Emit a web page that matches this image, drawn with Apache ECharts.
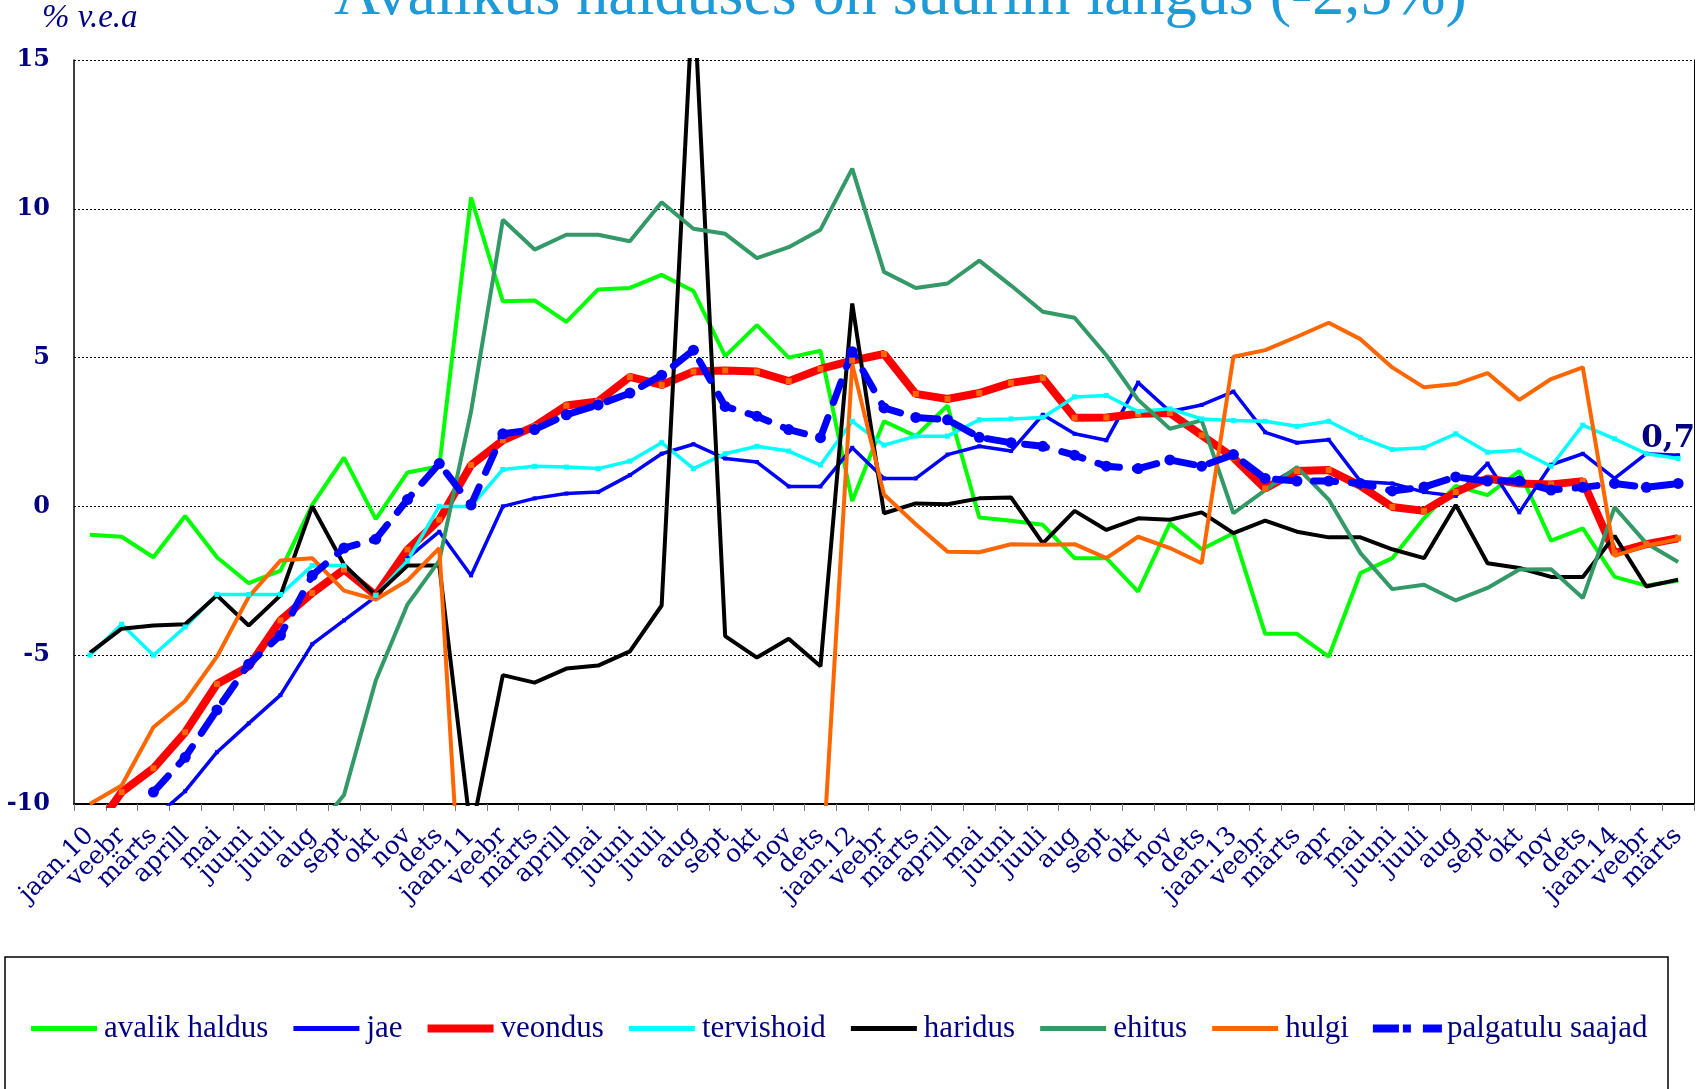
<!DOCTYPE html>
<html><head><meta charset="utf-8">
<script src="https://cdn.jsdelivr.net/npm/echarts@6/dist/echarts.min.js"></script>
<style>html,body{margin:0;padding:0;background:#fff}#c{width:1703px;height:1089px}</style>
</head><body><div id="c"></div>
<script>
const categories = ['jaan.10','veebr','märts','aprill','mai','juuni','juuli','aug','sept','okt','nov','dets',
  'jaan.11','veebr','märts','aprill','mai','juuni','juuli','aug','sept','okt','nov','dets',
  'jaan.12','veebr','märts','aprill','mai','juuni','juuli','aug','sept','okt','nov','dets',
  'jaan.13','veebr','märts','apr','mai','juuni','juuli','aug','sept','okt','nov','dets',
  'jaan.14','veebr','märts'];
const yTicks = [-10, -5, 0, 5, 10, 15];
const avalikHaldus = [-0.95,-1.02,-1.71,-0.32,-1.71,-2.58,-2.16,0.05,1.64,-0.43,1.14,1.35,
  10.38,6.89,6.92,6.20,7.29,7.34,7.78,7.24,5.05,6.09,5.00,5.23,
  0.18,2.86,2.36,3.39,-0.37,-0.48,-0.62,-1.74,-1.74,-2.86,-0.57,-1.44,
  -0.90,-4.28,-4.28,-5.05,-2.24,-1.74,-0.40,0.69,0.38,1.19,-1.15,-0.74,
  -2.37,-2.66,-2.50];
const jae = [null,null,-10.5,-9.57,-8.26,-7.29,-6.34,-4.63,-3.83,-3.03,-1.74,-0.85,
  -2.32,0.0,0.27,0.43,0.48,1.05,1.77,2.09,1.61,1.49,0.67,0.67,
  1.97,0.94,0.94,1.74,2.02,1.86,3.08,2.44,2.22,4.16,3.19,3.41,
  3.86,2.49,2.14,2.24,0.84,0.77,0.48,0.35,1.44,-0.20,1.40,1.77,
  0.94,1.77,1.72];
const veondus = [-11.1,-9.6,-8.80,-7.59,-5.97,-5.38,-3.83,-2.91,-2.12,-2.99,-1.45,-0.45,
  1.39,2.22,2.69,3.39,3.53,4.35,4.08,4.53,4.57,4.53,4.21,4.62,
  4.90,5.12,3.78,3.61,3.81,4.15,4.31,2.98,2.99,3.11,3.14,2.39,
  1.64,0.60,1.19,1.22,0.69,-0.02,-0.15,0.48,0.94,0.77,0.74,0.85,
  -1.57,-1.27,-1.07];
const tervishoid = [-5.0,-3.96,-5.0,-4.05,-2.96,-2.96,-2.96,-1.99,-1.99,-2.99,-1.82,0.0,
  0.0,1.24,1.35,1.32,1.27,1.52,2.14,1.27,1.77,2.02,1.86,1.39,
  2.86,2.06,2.36,2.36,2.91,2.94,2.99,3.68,3.73,3.19,3.28,2.94,
  2.89,2.86,2.69,2.86,2.32,1.91,1.97,2.44,1.82,1.89,1.35,2.73,
  2.27,1.77,1.61];
const haridus = [-4.92,-4.11,-4.0,-3.96,-2.99,-4.0,-2.99,0.0,-1.96,-2.99,-1.99,-1.99,
  -11.0,-5.67,-5.92,-5.45,-5.35,-4.87,-3.33,17.5,-4.36,-5.08,-4.45,-5.37,
  6.82,-0.23,0.10,0.07,0.27,0.30,-1.24,-0.15,-0.79,-0.40,-0.45,-0.20,
  -0.90,-0.48,-0.85,-1.04,-1.04,-1.44,-1.74,0.05,-1.91,-2.07,-2.37,-2.37,
  -0.99,-2.69,-2.46];
const ehitus = [null,null,null,null,null,null,null,-11.0,-9.7,-5.85,-3.29,-1.82,
  3.19,9.63,8.63,9.13,9.13,8.91,10.22,9.33,9.16,8.34,8.71,9.30,
  11.35,7.88,7.34,7.49,8.26,7.42,6.54,6.34,5.08,3.58,2.61,2.89,
  -0.23,0.55,1.32,0.23,-1.57,-2.78,-2.63,-3.16,-2.74,-2.12,-2.11,-3.08,
  -0.03,-1.24,-1.87];
const hulgi = [-10.0,-9.38,-7.42,-6.54,-5.05,-3.04,-1.82,-1.74,-2.83,-3.13,-2.49,-1.40,
  -19.4,null,null,null,null,null,null,null,null,null,null,-13.2,
  4.78,0.40,-0.60,-1.52,-1.54,-1.27,-1.29,-1.27,-1.74,-1.02,-1.40,-1.91,
  5.03,5.25,5.70,6.17,5.62,4.67,4.00,4.11,4.48,3.58,4.28,4.67,
  -1.66,-1.32,-1.10];
const palgatuluSaajad = [null,null,-9.6,-8.43,-6.84,-5.30,-4.33,-2.32,-1.40,-1.10,0.23,1.44,
  0.05,2.44,2.58,3.08,3.41,3.81,4.41,5.25,3.36,3.03,2.58,2.31,
  5.20,3.31,2.99,2.91,2.32,2.14,2.02,1.72,1.35,1.27,1.56,1.35,
  1.74,0.94,0.85,0.85,0.77,0.52,0.65,0.99,0.85,0.85,0.55,0.64,
  0.77,0.64,0.77];
const lastLabel = '0,7';
const seriesNames = ['avalik haldus','jae','veondus','tervishoid','haridus','ehitus','hulgi','palgatulu saajad'];

const NAVY = '#000080';
const SERIF = "'DejaVu Serif', 'Liberation Serif', serif";
const TIMES = "'Liberation Serif', serif";
const chart = echarts.init(document.getElementById('c'));

function lineSeries(name, data, color, width, extra) {
  return Object.assign({
    name: name, type: 'line', data: data, showSymbol: false, symbol: 'none',
    lineStyle: { color: color, width: width }, itemStyle: { color: color },
    clip: true, animation: false, connectNulls: false
  }, extra || {});
}

const palData = palgatuluSaajad.map((v, i) => i === palgatuluSaajad.length - 1 ? {
  value: v,
  label: { show: true, formatter: lastLabel, position: 'top', distance: 24, offset: [-10, 0],
    color: NAVY, fontWeight: 'bold', fontSize: 31, fontFamily: SERIF }
} : v);

// legend icons: invisible bbox (0..70 x 0..14) via moveTo points, bar in the middle
const BOX = 'M0,0 M70,14 ';
const barIcon = (h) => 'path://' + BOX + 'M2,' + (7 - h / 2) + ' h66 v' + h + ' h-66 z';
const dashDotIcon = 'path://' + BOX + 'M1,3 h26 v8 h-26 z M31,3 h8 v8 h-8 z M51,3 h19 v8 h-19 z';
const legendColors = ['#00FF00','#0000FF','#FF0000','#00FFFF','#000000','#339966','#FF6600','#0000FF'];
const legendThick = [5, 5, 8, 5, 5, 5, 5, 8];
const legendData = seriesNames.map((n, i) => ({
  name: n,
  icon: i === 7 ? dashDotIcon : barIcon(legendThick[i]),
  itemStyle: { color: legendColors[i], borderWidth: 0 }
}));

chart.setOption({
  backgroundColor: '#fff',
  animation: false,
  title: {
    text: 'Avalikus halduses on suurim langus (-2,5%)',
    left: 329, top: -40,
    textStyle: { color: '#1E9AD6', fontSize: 64, fontWeight: 'normal', fontFamily: TIMES }
  },
  grid: { left: 74, right: 9, top: 60, bottom: 285, containLabel: false },
  legend: {
    left: 24, top: 1008, itemWidth: 70, itemHeight: 14, itemGap: 23,
    textStyle: { color: NAVY, fontSize: 31, fontFamily: TIMES },
    data: legendData
  },
  xAxis: {
    type: 'category', data: categories, boundaryGap: true,
    axisLine: { onZero: false, lineStyle: { color: '#000', width: 2 } },
    axisTick: { show: true, interval: 0, length: 7, lineStyle: { color: '#777', width: 1 } },
    axisLabel: { interval: 0, rotate: 45, color: NAVY, fontSize: 25, fontFamily: SERIF, margin: 28 },
    splitLine: { show: false }
  },
  yAxis: [{
    type: 'value', min: yTicks[0], max: yTicks[yTicks.length - 1], interval: 5,
    axisLine: { show: true, lineStyle: { color: '#000', width: 1.5 } },
    axisTick: { show: false },
    axisLabel: { color: NAVY, fontSize: 24, fontWeight: 'bold', fontFamily: SERIF, margin: 24 },
    splitLine: { show: true, lineStyle: { color: '#000', width: 1, type: [2, 2] } }
  }, {
    type: 'value', position: 'right', min: yTicks[0], max: yTicks[yTicks.length - 1], interval: 5,
    axisLine: { show: true, lineStyle: { color: '#000', width: 1 } },
    axisTick: { show: false }, axisLabel: { show: false }, splitLine: { show: false }
  }],
  graphic: [
    { type: 'text', left: 42, top: 2, style: { text: '% v.e.a', fill: NAVY, font: "italic 33px 'Liberation Serif', serif" } },
    { type: 'rect', shape: { x: 5, y: 957, width: 1663, height: 160 }, style: { fill: 'none', stroke: '#000', lineWidth: 1.5 }, z: -1 }
  ],
  series: [
    lineSeries(seriesNames[0], avalikHaldus, '#00FF00', 4),
    lineSeries(seriesNames[1], jae, '#0000FF', 3.5, { symbol: 'rect', symbolSize: 4, showSymbol: true }),
    lineSeries(seriesNames[2], veondus, '#FF0000', 8, { symbol: 'rect', symbolSize: 6, showSymbol: true, itemStyle: { color: '#FF6600' } }),
    lineSeries(seriesNames[3], tervishoid, '#00FFFF', 3.5, { symbol: 'rect', symbolSize: 5, showSymbol: true }),
    lineSeries(seriesNames[4], haridus, '#000000', 4),
    lineSeries(seriesNames[5], ehitus, '#339966', 4),
    lineSeries(seriesNames[6], hulgi, '#FF6600', 4),
    lineSeries(seriesNames[7], palData, '#0000FF', 7, {
      symbol: 'circle', symbolSize: 11, showSymbol: true,
      lineStyle: { color: '#0000FF', width: 7, type: [22, 16], cap: 'round' }
    })
  ]
});
</script></body></html>
